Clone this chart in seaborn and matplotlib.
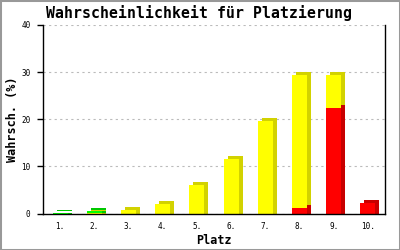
import matplotlib
matplotlib.use("Agg")
import matplotlib.pyplot as plt
import matplotlib.transforms as mtransforms
from matplotlib.patches import Rectangle
import numpy as np
import pandas as pd
import seaborn as sns

# ---- data ----
places = ["1.", "2.", "3.", "4.", "5.", "6.", "7.", "8.", "9.", "10."]
red = [0, 0, 0, 0, 0, 0, 0, 1.1, 22.4, 2.2]
yellow = [0, 0.15, 0.8, 2.0, 6.0, 11.6, 19.6, 28.3, 7.0, 0]
green = [0.15, 0.3, 0, 0, 0, 0, 0, 0, 0, 0]
yticks = [0, 10, 20, 30, 40]

title = "Wahrscheinlichkeit für Platzierung"
xlabel = "Platz"
ylabel = "Wahrsch. (%)"

df = pd.DataFrame({"Platz": places, "red": red, "yellow": yellow, "green": green})
df["ry"] = df["red"] + df["yellow"]
df["total"] = df["ry"] + df["green"]

sns.set_style("white")
plt.rcParams["font.family"] = ["DejaVu Sans Mono", "DejaVu Sans"]
plt.rcParams["text.color"] = "black"

W, H = 400, 250
fig = plt.figure(figsize=(4, 2.5), dpi=100)
ax = fig.add_axes([43 / W, 1 - 213.5 / H, (385 - 43) / W, (213.5 - 25) / H])

layers = [("total", "#00ff00", "#00c800"),
          ("ry", "#ffff00", "#d2d200"),
          ("red", "#ff0000", "#c80000")]
off_top = mtransforms.offset_copy(ax.transData, fig=fig, x=4, y=3, units="dots")
off_side = mtransforms.offset_copy(ax.transData, fig=fig, x=4, y=0, units="dots")
for col, front, shade in layers:
    n0 = len(ax.patches)
    sns.barplot(data=df, x="Platz", y=col, color=front, saturation=1,
                width=0.44, errorbar=None, ax=ax, linewidth=0, zorder=3)
    new = list(ax.patches[n0:])
    for p in new:
        p.set_antialiased(False)
        if p.get_height() <= 0:
            continue
        for tr in (off_top, off_side):
            sh = Rectangle((p.get_x(), p.get_y()), p.get_width(), p.get_height(),
                           transform=tr, facecolor=shade, linewidth=0,
                           zorder=2, antialiased=False)
            ax.add_patch(sh)

ax.set_xlim(-0.5, len(places) - 0.5)
ax.set_ylim(0, 40)
ax.set_yticks(yticks)
ax.set_yticklabels([str(v) for v in yticks])
ax.yaxis.grid(True, color="#bbbbbb", linestyle=(0, (2, 3)), linewidth=0.8)
ax.xaxis.grid(False)
ax.set_axisbelow(True)

for s in ["left", "bottom", "right"]:
    ax.spines[s].set_visible(True)
    ax.spines[s].set_color("black")
    ax.spines[s].set_linewidth(1.0)
    ax.spines[s].set_zorder(4)
ax.spines["top"].set_visible(False)

ax.tick_params(axis="x", length=0, pad=6, labelsize=5.5, colors="black")
ax.tick_params(axis="y", length=4, width=1, direction="out", pad=5,
               labelsize=5.5, colors="black", left=True, right=False)
ax.set_xlabel("")
ax.set_ylabel("")

fig.text(199 / W, 1 - 13 / H, title, ha="center", va="center", color="black",
         fontsize=10.7, fontweight="bold", family="DejaVu Sans Mono")
fig.text(214 / W, 1 - 240 / H, xlabel, ha="center", va="center", color="black",
         fontsize=8.5, fontweight="bold", family="DejaVu Sans Mono")
fig.text(12.5 / W, 1 - 119 / H, ylabel, ha="center", va="center", rotation=90,
         color="black", fontsize=8.5, fontweight="bold", family="DejaVu Sans Mono")

fig.patches.append(Rectangle((0, 0), 1, 1, transform=fig.transFigure,
                             fill=False, edgecolor="#999999", linewidth=2.2))

fig.savefig("out.png", dpi=100, facecolor="white")
